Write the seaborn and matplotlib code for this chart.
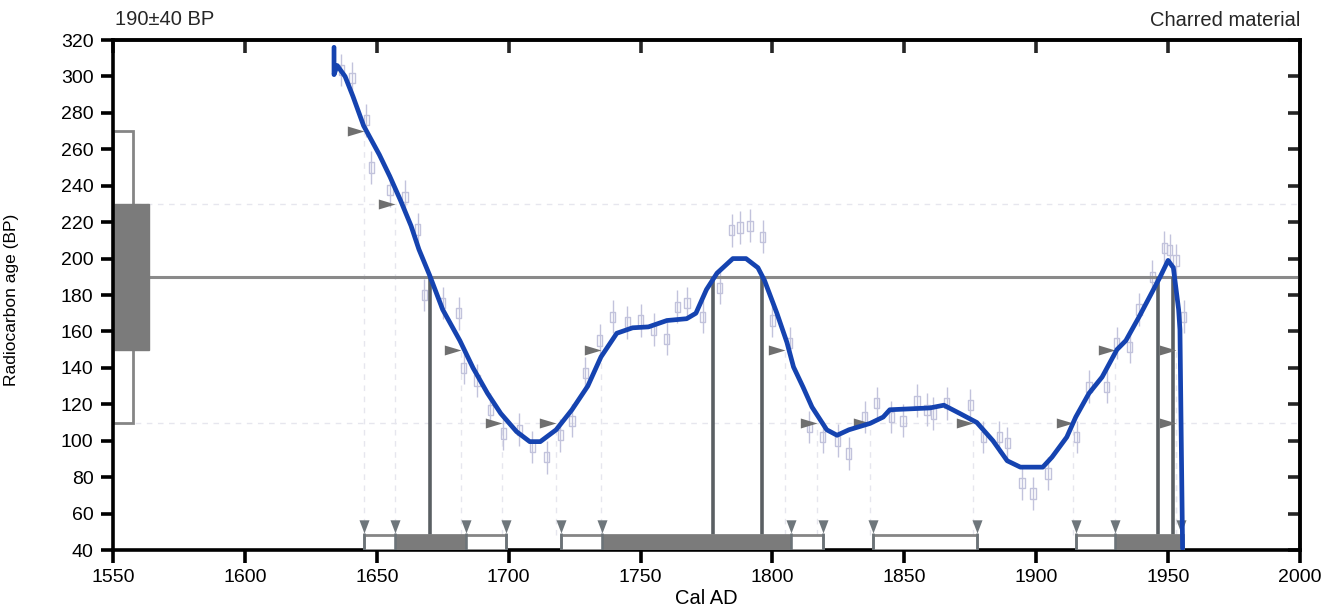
import numpy as np
import pandas as pd
import matplotlib
matplotlib.use("Agg")
import matplotlib.pyplot as plt
import seaborn as sns
from matplotlib.patches import Rectangle

sns.set_theme(style="white")
plt.rcParams['font.family'] = ['Liberation Sans', 'DejaVu Sans']

# ---------------- data ----------------
date_bp = 190
date_err = 40

curve_year = [1633.8, 1633.8, 1635, 1638, 1641, 1645, 1651, 1655, 1659, 1663, 1666, 1670,
              1675, 1681.5, 1686.5, 1692, 1697, 1703, 1708, 1712, 1718, 1724, 1730, 1735,
              1741, 1747, 1753, 1760, 1767.5, 1771, 1775, 1779, 1785, 1790, 1794.5, 1797,
              1801.7, 1805.5, 1808, 1811.6, 1815, 1820.6, 1824.5, 1829, 1837, 1842, 1844.5,
              1859.7, 1865, 1871, 1877.5, 1883.6, 1889, 1894, 1902.5, 1906, 1911.6, 1915,
              1920, 1925, 1930.6, 1934, 1939, 1943, 1947, 1950, 1952, 1954, 1954.5, 1955,
              1955.5]
curve_bp = [316, 301, 306, 300, 289, 273, 257, 245, 232, 218, 205, 191,
            172, 155, 140, 126, 115, 105, 99.5, 99.5, 106, 117, 130, 146,
            159, 162, 162.5, 166, 167, 170, 183, 192, 200, 200, 195, 188,
            170, 154, 140.5, 129.5, 118.5, 106, 103, 106, 109.5, 113, 117,
            118, 119.5, 115, 110, 100, 89, 85.5, 85.5, 91, 102, 113,
            126, 135, 150, 155, 168, 179, 190, 199, 195, 172, 161, 100,
            41]

cal_year = [1636.5, 1640.6, 1646, 1648, 1655, 1660.7, 1665.6, 1668, 1675, 1681, 1683, 1688,
            1693, 1698, 1704, 1709, 1714.5, 1719.5, 1724, 1729, 1734.6, 1739.5, 1745, 1750,
            1755, 1760, 1764, 1767.6, 1773.6, 1780, 1784.6, 1787.7, 1791.5, 1796.4, 1800,
            1806.6, 1814, 1819, 1824.8, 1829, 1835, 1839.6, 1845, 1849.5, 1854.8, 1858.6,
            1861, 1866, 1875, 1880, 1886, 1889, 1894.6, 1898.8, 1904.5, 1915.4, 1920,
            1926.8, 1930.6, 1935.5, 1939, 1944, 1948.5, 1950.7, 1953, 1956]
cal_bp = [303.5, 299, 276, 250, 237.5, 234, 216, 180, 175.6, 170, 140, 133,
          117, 104, 106, 96.5, 91, 103, 111, 137, 155, 168, 165, 166,
          161, 156, 173.6, 175.6, 168, 184, 215.6, 217, 218, 212, 166,
          153.6, 107.5, 102, 100, 93, 113, 120.6, 113, 111, 122, 117,
          115, 120.6, 119.5, 102, 102, 98.7, 76.7, 71, 82, 102, 129.6,
          129.6, 153.6, 151.5, 172, 190, 206, 204.6, 199, 168]

intercept_years = [1670, 1777.5, 1796, 1946, 1952]

sigma_tri_year = [1645, 1657, 1682, 1697.5, 1718, 1735, 1804.7, 1817, 1837, 1876, 1914, 1930, 1953, 1953]
sigma_tri_bp = [270, 230, 150, 110, 110, 150, 150, 110, 110, 110, 110, 150, 150, 110]

guide_bp = [110, 230]

range2_start = [1645, 1720, 1838, 1915]
range2_end = [1699, 1819, 1877.5, 1955.5]
range1_start = [1657, 1735.5, 1930]
range1_end = [1684, 1807, 1955]

xticks = [1550, 1600, 1650, 1700, 1750, 1800, 1850, 1900, 1950, 2000]
xtick_labels = ['1550', '1600', '1650', '1700', '1750', '1800', '1850', '1900', '1950', '2000']
yticks = [40, 60, 80, 100, 120, 140, 160, 180, 200, 220, 240, 260, 280, 300, 320]

# ---------------- figure ----------------
fig = plt.figure(figsize=(13.37, 6.12), dpi=100)
ax = fig.add_axes([0.0845, 0.1013, 0.8878, 0.8333])
ax.set_xlim(1550, 2000)
ax.set_ylim(40, 320)

bar_top = 48
grey_fill = '#7b7b7b'
outline = '#858585'

# faint dashed guide lines
ax.hlines(guide_bp, 1550, 2000, color='#e6e6ee', lw=1.0, ls=(0, (4, 4)), zorder=0.5)
ax.vlines(sigma_tri_year, bar_top, sigma_tri_bp, color='#e6e6ee', lw=1.0, ls=(0, (4, 4)), zorder=0.5)

# calibration data points (light lavender)
lav = '#c2c3dc'
ax.errorbar(cal_year, cal_bp, yerr=9, fmt='none', ecolor=lav, elinewidth=1.0, zorder=1)
box_marker = [(-0.5, -1), (0.5, -1), (0.5, 1), (-0.5, 1), (-0.5, -1)]
ax.scatter(cal_year, cal_bp, marker=box_marker, s=55, facecolors='none', edgecolors=lav,
           linewidths=1.0, zorder=1)

# left box (radiocarbon date distribution)
ax.add_patch(Rectangle((1550, date_bp - 2 * date_err), 7.6, 4 * date_err, fc='white',
                       ec=outline, lw=2.0, zorder=2, clip_on=False))
ax.add_patch(Rectangle((1550, date_bp - date_err), 13.6, 2 * date_err, fc=grey_fill,
                       ec=grey_fill, lw=1.0, zorder=2.1))
ax.hlines(date_bp, 1563.6, 2000, color='#8a8a8a', lw=2.2, zorder=2)

# intercept lines
ax.vlines(intercept_years, bar_top, date_bp, color='#5a5f63', lw=2.6, zorder=3)

# range bars
for s, e in zip(range2_start, range2_end):
    ax.add_patch(Rectangle((s, 40), e - s, bar_top - 40, fc='white', ec=outline, lw=2.0, zorder=3))
for s, e in zip(range1_start, range1_end):
    ax.add_patch(Rectangle((s, 40), e - s, bar_top - 40, fc=grey_fill, ec=grey_fill, lw=1.0, zorder=3.1))

range_tick_years = sorted(range2_start + range2_end[:3] + range1_start + range1_end[:2] + [1955])
ax.vlines(range_tick_years, 40, 49.5, color='#6b7378', lw=1.8, zorder=3.2)
down_tri = [(0, 0), (-0.38, 1), (0.38, 1), (0, 0)]
ax.scatter(range_tick_years, [49.5] * len(range_tick_years), marker=down_tri, s=19 ** 2,
           color='#6e767b', linewidths=0, zorder=3.3)

# sigma intercept triangles (pointing right)
right_tri = [(0, 0), (-1, 0.3), (-1, -0.3), (0, 0)]
ax.scatter(sigma_tri_year, sigma_tri_bp, marker=right_tri, s=24 ** 2, color='#6f6f6f',
           linewidths=0, zorder=4)

# calibration curve
curve_df = pd.DataFrame({'year': curve_year, 'bp': curve_bp})
sns.lineplot(data=curve_df, x='year', y='bp', sort=False, estimator=None, color='#1543b0',
             lw=3.4, ax=ax, zorder=5)

# axes styling
for sp in ax.spines.values():
    sp.set_visible(True)
    sp.set_color('black')
    sp.set_linewidth(2.6)
ax.set_xticks(xticks)
ax.set_xticklabels(xtick_labels)
ax.set_yticks(yticks)
ax.tick_params(axis='both', direction='out', length=9, width=2.6, color='black',
               labelsize=14, labelcolor='black', pad=5)
ax.tick_params(axis='x', bottom=True, top=False)
ax.tick_params(axis='y', left=True, right=False)

top = ax.secondary_xaxis('top')
top.set_xticks(xticks)
top.tick_params(direction='in', length=9, width=2.6, labeltop=False)
top.spines['top'].set_linewidth(2.6)
right = ax.secondary_yaxis('right')
right.set_yticks(yticks)
right.tick_params(direction='in', length=9, width=2.6, labelright=False)
right.spines['right'].set_linewidth(2.6)

ax.set_xlabel('Cal AD', fontsize=14.5, labelpad=2, color='black')
ax.set_ylabel('Radiocarbon age (BP)', fontsize=12.5, color='black')
ax.yaxis.set_label_coords(-0.079, 0.49)
ax.grid(False)

ax.text(0.002, 1.022, '190\u00b140 BP', transform=ax.transAxes, ha='left', va='bottom', fontsize=14.5)
ax.text(1.0, 1.02, 'Charred material', transform=ax.transAxes, ha='right', va='bottom', fontsize=14.5)

fig.savefig('out.png', dpi=100)
